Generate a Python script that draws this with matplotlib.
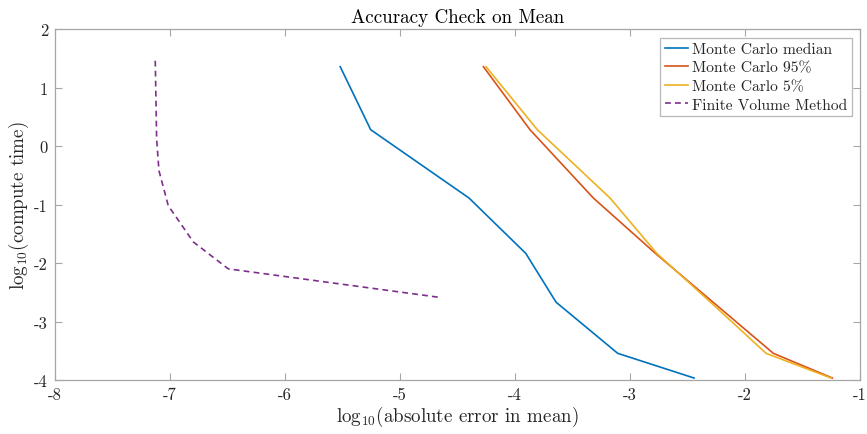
import matplotlib
matplotlib.use("Agg")
import matplotlib.pyplot as plt

plt.rcParams['font.family'] = ['cmr10', 'DejaVu Serif']
plt.rcParams['mathtext.fontset'] = 'cm'
plt.rcParams['axes.unicode_minus'] = False

# Data (log10 values)
mc_median_x = [-5.52, -5.255, -4.40, -3.907, -3.643, -3.107, -2.443]
mc_median_y = [1.356, 0.279, -0.889, -1.834, -2.670, -3.544, -3.966]

mc_95_x = [-4.275, -3.870, -3.319, -2.78, -2.278, -1.754, -1.241]
mc_95_y = [1.356, 0.279, -0.889, -1.834, -2.670, -3.544, -3.966]

mc_5_x = [-4.252, -3.806, -3.174, -2.768, -2.300, -1.817, -1.252]
mc_5_y = [1.356, 0.279, -0.889, -1.834, -2.670, -3.544, -3.966]

fvm_x = [-7.128, -7.116, -7.096, -7.015, -6.797, -6.493, -4.646]
fvm_y = [1.458, 0.12, -0.42, -1.02, -1.64, -2.10, -2.59]

x_ticks = [-8, -7, -6, -5, -4, -3, -2, -1]
x_tick_labels = ['-8', '-7', '-6', '-5', '-4', '-3', '-2', '-1']
y_ticks = [-4, -3, -2, -1, 0, 1, 2]
y_tick_labels = ['-4', '-3', '-2', '-1', '0', '1', '2']

fig = plt.figure(figsize=(8.67, 4.35), dpi=100)
ax = fig.add_axes([0.0634, 0.1241, 0.9286, 0.8069])

lw = 1.2
ax.plot(mc_median_x, mc_median_y, color='#0072BD', lw=lw, label='Monte Carlo median')
ax.plot(mc_95_x, mc_95_y, color='#D95319', lw=lw, label='Monte Carlo 95%')
ax.plot(mc_5_x, mc_5_y, color='#EDB120', lw=lw, label='Monte Carlo 5%')
ax.plot(fvm_x, fvm_y, color='#7E2F8E', lw=lw, ls=(0, (3.5, 2.5)), label='Finite Volume Method')

ax.set_xlim(-8, -1)
ax.set_ylim(-4, 2)
ax.set_xticks(x_ticks)
ax.set_xticklabels(x_tick_labels)
ax.set_yticks(y_ticks)
ax.set_yticklabels(y_tick_labels)

spine_c = '#a6a6a6'
for s in ax.spines.values():
    s.set_color(spine_c)
    s.set_linewidth(0.9)
ax.tick_params(direction='in', length=5, width=0.8, color=spine_c,
               labelsize=12, labelcolor='#262626', top=True, right=True, pad=5)

ax.set_title('Accuracy Check on Mean', fontsize=13.7, color='#000000', pad=5)
ax.set_xlabel(r'$\mathregular{log_{10}}$(absolute error in mean)', fontsize=13.7, color='#262626', labelpad=1)
ax.set_ylabel(r'$\mathregular{log_{10}}$(compute time)', fontsize=13.7, color='#262626', labelpad=2)

leg = ax.legend(loc='upper right', fontsize=11.2, frameon=True, fancybox=False,
                edgecolor=spine_c, handlelength=1.5, handletextpad=0.2,
                borderpad=0.3, labelspacing=0.3, borderaxespad=0.55)
leg.get_frame().set_linewidth(0.9)
for t in leg.get_texts():
    t.set_color('#262626')

fig.savefig('out.png', dpi=100)
